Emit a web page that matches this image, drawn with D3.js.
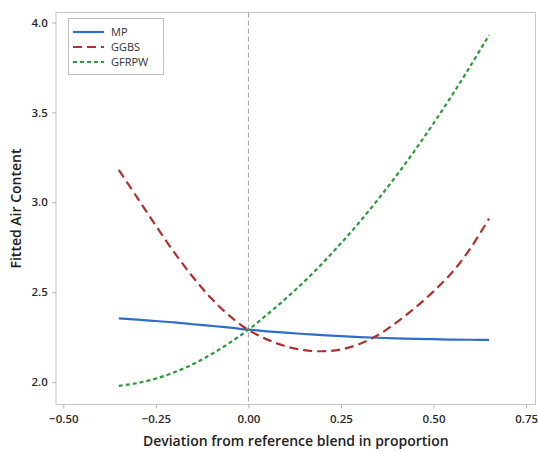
<!DOCTYPE html>
<html>
<head>
<meta charset="utf-8">
<script src="https://cdn.jsdelivr.net/npm/d3@7"></script>
<style>
  body { margin: 0; background: #fff; }
  svg { font-family: "Open Sans", sans-serif; }
</style>
</head>
<body>
<svg id="chart" width="538" height="452"></svg>
<script>
// deviation from reference blend (x values of the fitted curves)
const deviation = [-0.35, -0.30, -0.25, -0.20, -0.15, -0.10, -0.05, 0.00, 0.05, 0.10,
  0.15, 0.20, 0.25, 0.30, 0.35, 0.40, 0.45, 0.50, 0.55, 0.60, 0.65];

const mpValues = [2.355, 2.348, 2.340, 2.332, 2.322, 2.313, 2.303, 2.292, 2.283, 2.275,
  2.268, 2.262, 2.256, 2.251, 2.247, 2.244, 2.241, 2.239, 2.237, 2.236, 2.235];
const ggbsValues = [3.18, 3.025, 2.87, 2.72, 2.585, 2.465, 2.367, 2.29, 2.238, 2.20,
  2.178, 2.172, 2.182, 2.212, 2.262, 2.332, 2.413, 2.505, 2.61, 2.745, 2.91];
const gfrpwValues = [1.98, 1.995, 2.02, 2.055, 2.10, 2.155, 2.22, 2.292, 2.375, 2.463,
  2.558, 2.661, 2.772, 2.89, 3.016, 3.149, 3.29, 3.439, 3.595, 3.759, 3.93];

const seriesNames = ["MP", "GGBS", "GFRPW"];
const xTicks = [-0.50, -0.25, 0.00, 0.25, 0.50, 0.75];
const yTicks = [2.0, 2.5, 3.0, 3.5, 4.0];

const styles = {
  MP: { color: "#2e6fc6", dash: null },
  GGBS: { color: "#b0302f", dash: "9,5" },
  GFRPW: { color: "#2b9a3a", dash: "4,3" }
};

const series = [
  { name: "MP", values: mpValues },
  { name: "GGBS", values: ggbsValues },
  { name: "GFRPW", values: gfrpwValues }
];

const svg = d3.select("#chart");
const plotLeft = 56, plotRight = 535.5, plotTop = 12.5, plotBottom = 404.5;

const x = d3.scaleLinear().domain([-0.5197, 0.7754]).range([plotLeft, plotRight]);
const y = d3.scaleLinear().domain([1.876, 4.055]).range([plotBottom, plotTop]);

// frame
svg.append("rect")
  .attr("x", plotLeft).attr("y", plotTop)
  .attr("width", plotRight - plotLeft).attr("height", plotBottom - plotTop)
  .attr("fill", "none").attr("stroke", "#c6c6c6").attr("stroke-width", 1);

// axes
const xAxis = svg.append("g")
  .attr("transform", `translate(0,${plotBottom})`)
  .call(d3.axisBottom(x).tickValues(xTicks).tickFormat(d3.format(".2f")).tickSizeOuter(0).tickSize(4));
const yAxis = svg.append("g")
  .attr("transform", `translate(${plotLeft},0)`)
  .call(d3.axisLeft(y).tickValues(yTicks).tickFormat(d3.format(".1f")).tickSizeOuter(0).tickSize(4));

[xAxis, yAxis].forEach(g => {
  g.select(".domain").remove();
  g.selectAll(".tick line").attr("stroke", "#b5b5b5");
  g.selectAll(".tick text")
    .attr("fill", "#2a2a2a")
    .attr("font-size", 11.5)
    .attr("font-weight", 600)
    .attr("font-family", "'Open Sans', sans-serif");
});
xAxis.selectAll(".tick text").attr("dy", "1.0em");
yAxis.selectAll(".tick text").attr("dx", "-0.1em");

// reference line at zero
svg.append("line")
  .attr("x1", x(0)).attr("x2", x(0))
  .attr("y1", plotTop).attr("y2", plotBottom)
  .attr("stroke", "#a0a0a0").attr("stroke-width", 1)
  .attr("stroke-dasharray", "5,3");

// curves
const line = d3.line()
  .x((d, i) => x(deviation[i]))
  .y(d => y(d))
  .curve(d3.curveCatmullRom);

svg.selectAll("path.curve")
  .data(series)
  .enter()
  .append("path")
  .attr("class", "curve")
  .attr("d", d => line(d.values))
  .attr("fill", "none")
  .attr("stroke", d => styles[d.name].color)
  .attr("stroke-width", 2.2)
  .attr("stroke-dasharray", d => styles[d.name].dash);

// legend
const legend = svg.append("g");
legend.append("rect")
  .attr("x", 68.5).attr("y", 18.5)
  .attr("width", 95).attr("height", 56)
  .attr("fill", "#fff").attr("stroke", "#bdbdbd");

seriesNames.forEach((name, i) => {
  const ly = 32 + i * 15;
  legend.append("line")
    .attr("x1", 73).attr("x2", 104)
    .attr("y1", ly).attr("y2", ly)
    .attr("stroke", styles[name].color)
    .attr("stroke-width", 2.2)
    .attr("stroke-dasharray", styles[name].dash);
  legend.append("text")
    .attr("x", 111).attr("y", ly)
    .attr("dy", "0.35em")
    .attr("font-size", 11)
    .attr("fill", "#333")
    .text(name);
});

// axis titles
svg.append("text")
  .attr("x", (plotLeft + plotRight) / 2).attr("y", 446)
  .attr("text-anchor", "middle")
  .attr("font-size", 14)
  .attr("font-weight", 600)
  .attr("fill", "#222")
  .text("Deviation from reference blend in proportion");

svg.append("text")
  .attr("transform", `translate(21,${(plotTop + plotBottom) / 2}) rotate(-90)`)
  .attr("text-anchor", "middle")
  .attr("font-size", 14)
  .attr("font-weight", 600)
  .attr("fill", "#222")
  .text("Fitted Air Content");
</script>
</body>
</html>
